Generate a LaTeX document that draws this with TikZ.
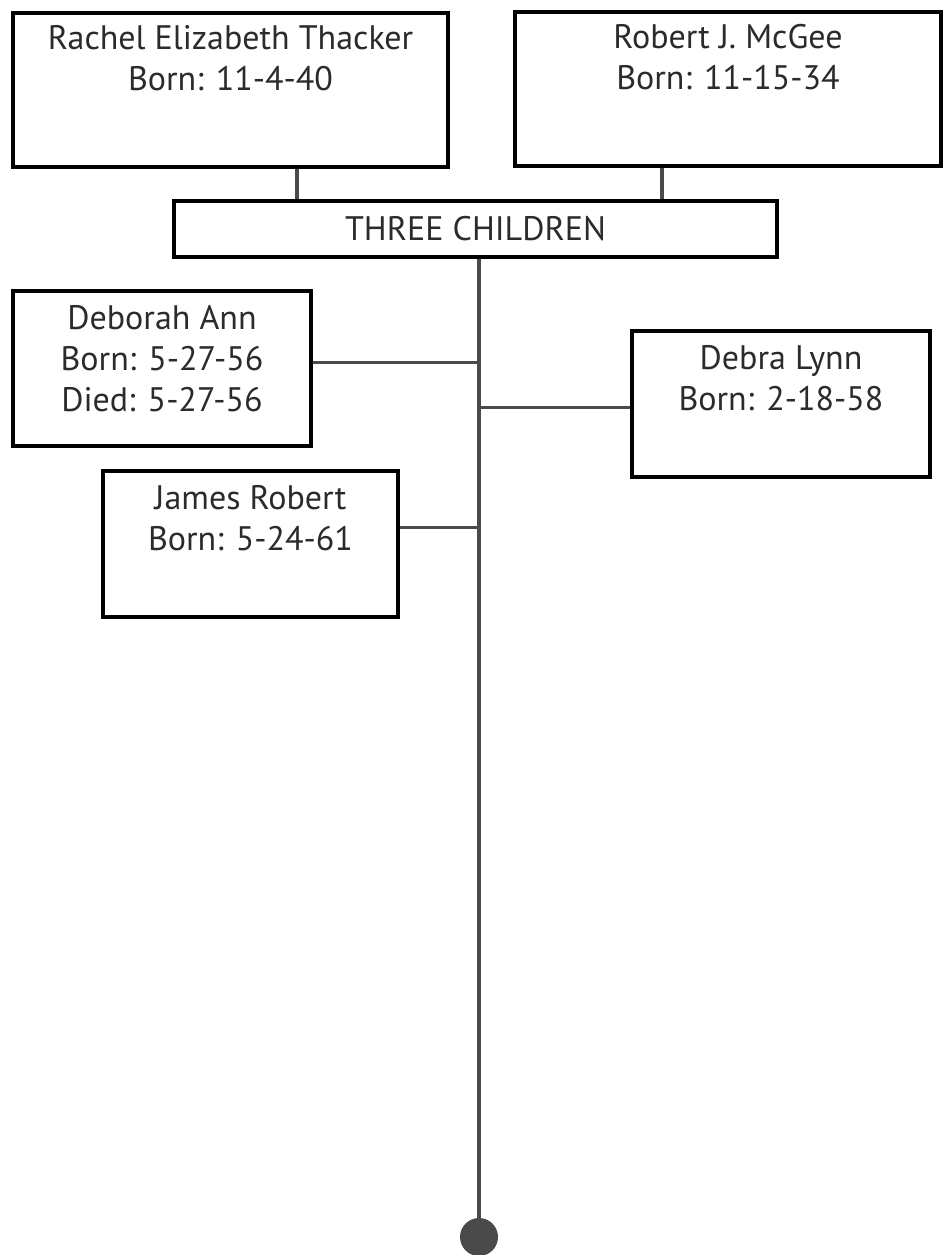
\documentclass[tikz,border=0pt]{standalone}
\usepackage{fontspec}
\setmainfont{PT Sans}
\definecolor{inkc}{HTML}{2B2B2B}
\definecolor{linec}{HTML}{4A4A4A}
\begin{document}
\begin{tikzpicture}[x=1pt,y=-1pt,
  box/.style={draw=black,line width=4pt,fill=white,inner sep=0pt,minimum height=154pt},
  lbl/.style={anchor=north,inner sep=0pt,align=center,text=inkc,font=\fontsize{34}{41}\selectfont},
  conn/.style={draw=linec,line width=3pt},
  trunkline/.style={draw=linec,line width=4pt}]
\useasboundingbox (0,0) rectangle (944,1255);
% boxes
\node[box,minimum width=435pt] (rachel) at (230.5,90) {};
\node[box,minimum width=426pt] (robert) at (728,89) {};
\node[box,minimum width=603pt,minimum height=56pt] (three) at (475.5,229) {};
\node[box,minimum width=298pt,minimum height=155pt] (deborah) at (162,368.5) {};
\node[box,minimum width=298pt,minimum height=146pt] (debra) at (781,404) {};
\node[box,minimum width=295pt,minimum height=146pt] (james) at (250.5,544) {};
\node[circle,fill=linec,draw=none,minimum size=38pt,inner sep=0pt] (dot) at (479,1237) {};
% labels
\node[lbl] (rachelt) at ([yshift=-12pt]rachel.north) {\rule{0pt}{26pt}Rachel Elizabeth Thacker\\Born: 11-4-40};
\node[lbl] (robertt) at ([yshift=-12pt]robert.north) {\rule{0pt}{26pt}Robert J. McGee\\Born: 11-15-34};
\node[lbl,anchor=center] (threet) at (three.center) {THREE CHILDREN};
\node[lbl] (deboraht) at ([yshift=-14pt]deborah.north) {\rule{0pt}{26pt}Deborah Ann\\Born: 5-27-56\\Died: 5-27-56};
\node[lbl] (debrat) at ([yshift=-14pt]debra.north) {\rule{0pt}{26pt}Debra Lynn\\Born: 2-18-58};
\node[lbl] (jamest) at ([yshift=-14pt]james.north) {\rule{0pt}{26pt}James Robert\\Born: 5-24-61};
% helper coordinates
\coordinate (pl) at (297,0);
\coordinate (pr) at (662,0);
\coordinate (trunk) at (479,0);
\coordinate (ydeb) at (0,362);
\coordinate (ydebra) at (0,407);
\coordinate (yjam) at (0,527);
% connectors
\draw[conn,line width=4pt] (pl |- rachel.south) -- (pl |- three.north);
\draw[conn,line width=4pt] (pr |- robert.south) -- (pr |- three.north);
\draw[trunkline] (trunk |- three.south) -- (dot.north);
\draw[conn] (deborah.east |- ydeb) -- (trunk |- ydeb);
\draw[conn] (trunk |- ydebra) -- (debra.west |- ydebra);
\draw[conn] (james.east |- yjam) -- (trunk |- yjam);
\end{tikzpicture}
\end{document}
